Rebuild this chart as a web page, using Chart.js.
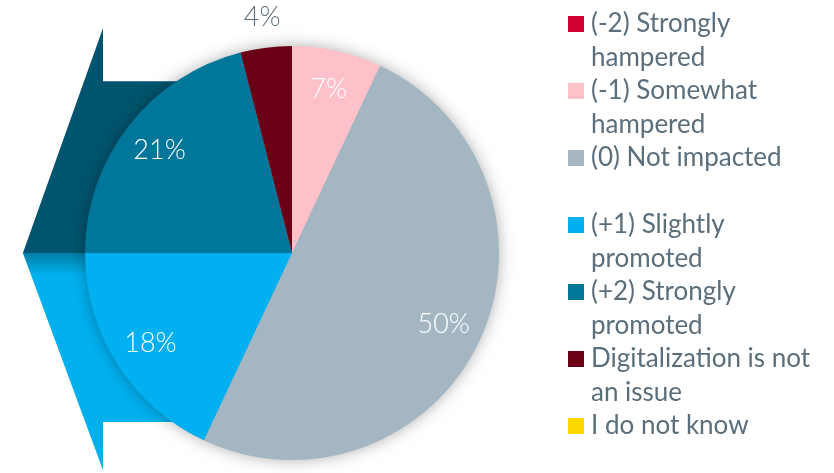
<!DOCTYPE html>
<html>
<head>
<meta charset="utf-8">
<script src="https://cdn.jsdelivr.net/npm/chart.js@4.4.1/dist/chart.umd.min.js"></script>
<style>
  html, body { margin: 0; padding: 0; background: #fff; }
  #wrap { position: relative; width: 834px; height: 473px; }
  #legend {
    position: absolute; left: 568px; top: 6px;
    font-family: Lato, "Open Sans", sans-serif; font-size: 26px; color: #5b6e7b;
    line-height: 33.5px;
  }
  .item { position: relative; padding-left: 23px; }
  .box { position: absolute; left: 0; top: 10px; width: 16px; height: 16px; }
</style>
</head>
<body>
<div id="wrap">
  <canvas id="chart" width="834" height="473"></canvas>
  <div id="legend"></div>
</div>
<script>
// answer categories, in legend order (each entry split into its display lines)
var categories = [
  ['(-2) Strongly', 'hampered'],
  ['(-1) Somewhat', 'hampered'],
  ['(0) Not impacted', ''],
  ['(+1) Slightly', 'promoted'],
  ['(+2) Strongly', 'promoted'],
  ['Digitalization is not', 'an issue'],
  ['I do not know']
];
var shares = [0, 7, 50, 18, 21, 4, 0];
var colors = ['#d50032', '#ffc1c9', '#a3b6c2', '#00b0f0', '#00769a', '#6a0015', '#ffd800'];

// big left-pointing arrow behind the pie
var arrowPlugin = {
  id: 'arrow',
  beforeDatasetsDraw: function (chart) {
    var arc = chart.getDatasetMeta(0).data[0];
    var cx = arc.x, cy = arc.y, r = arc.outerRadius;
    var ctx = chart.ctx;
    ctx.save();
    // upper half
    ctx.beginPath();
    ctx.moveTo(cx - 1.30 * r, cy);
    ctx.lineTo(cx - 0.913 * r, cy - 1.087 * r);
    ctx.lineTo(cx - 0.913 * r, cy - 0.83 * r);
    ctx.lineTo(cx, cy - 0.83 * r);
    ctx.lineTo(cx, cy);
    ctx.closePath();
    ctx.fillStyle = '#00546d';
    ctx.fill();
    // lower half
    var g = ctx.createLinearGradient(0, cy - 12, 0, cy + 22);
    g.addColorStop(0, '#00546d');
    g.addColorStop(0.35, '#007ea6');
    g.addColorStop(1, '#00b0ee');
    ctx.beginPath();
    ctx.moveTo(cx - 1.30 * r, cy);
    ctx.lineTo(cx - 0.913 * r, cy + 1.05 * r);
    ctx.lineTo(cx - 0.913 * r, cy + 0.816 * r);
    ctx.lineTo(cx, cy + 0.816 * r);
    ctx.lineTo(cx, cy);
    ctx.closePath();
    ctx.fillStyle = g;
    ctx.fill();
    // soft shadow under the pie
    ctx.beginPath();
    ctx.arc(cx, cy, r - 1, 0, Math.PI * 2);
    ctx.shadowColor = 'rgba(0,0,0,0.35)';
    ctx.shadowBlur = 16;
    ctx.fillStyle = '#a3b6c2';
    ctx.fill();
    ctx.restore();
  }
};

// percentage labels; small slices get theirs outside the pie
var labelPlugin = {
  id: 'pctLabels',
  afterDatasetsDraw: function (chart) {
    var ctx = chart.ctx;
    var meta = chart.getDatasetMeta(0);
    ctx.save();
    ctx.font = '300 27px Lato, "Open Sans", sans-serif';
    ctx.textAlign = 'center';
    ctx.textBaseline = 'middle';
    meta.data.forEach(function (el, i) {
      var v = shares[i];
      if (!v) return;
      var p = el.getProps(['x', 'y', 'startAngle', 'endAngle', 'outerRadius']);
      var mid = (p.startAngle + p.endAngle) / 2;
      var outside = v < 5;
      var rr = p.outerRadius * (outside ? 1.15 : 0.81);
      ctx.fillStyle = outside ? '#5b6e7b' : '#ffffff';
      ctx.fillText(v + '%', p.x + Math.cos(mid) * rr, p.y + Math.sin(mid) * rr);
    });
    ctx.restore();
  }
};

new Chart(document.getElementById('chart').getContext('2d'), {
  type: 'pie',
  data: {
    labels: categories.map(function (c) { return c.join(' '); }),
    datasets: [{ data: shares, backgroundColor: colors, borderWidth: 0 }]
  },
  options: {
    responsive: false,
    animation: false,
    layout: { padding: { left: 85, right: 335, top: 46, bottom: 13 } },
    plugins: { legend: { display: false }, tooltip: { enabled: false } }
  },
  plugins: [arrowPlugin, labelPlugin]
});

// legend on the right
var legend = document.getElementById('legend');
categories.forEach(function (lines, i) {
  var item = document.createElement('div');
  item.className = 'item';
  item.innerHTML = '<span class="box" style="background:' + colors[i] + '"></span>' +
    lines.map(function (l) { return l || '&nbsp;'; }).join('<br>');
  legend.appendChild(item);
});
</script>
</body>
</html>
